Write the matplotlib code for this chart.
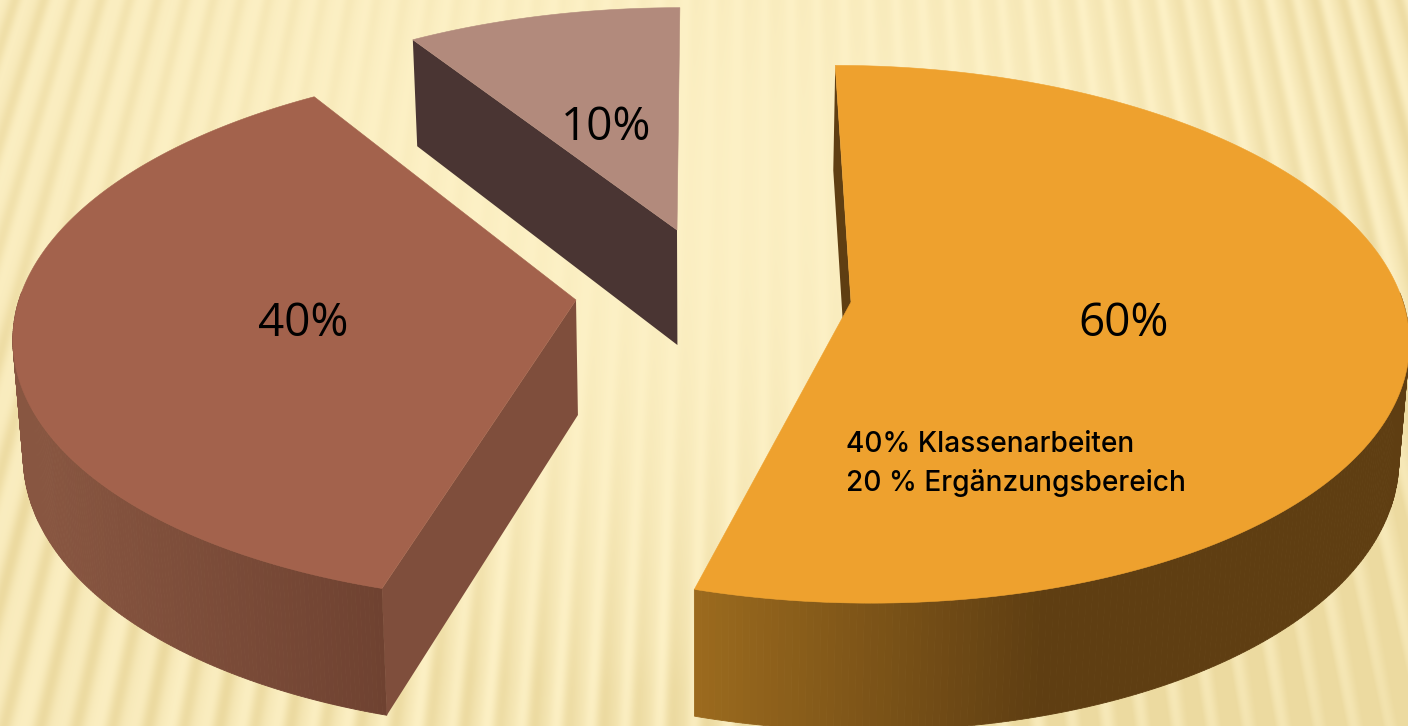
import numpy as np
import matplotlib
matplotlib.use("Agg")
import matplotlib.pyplot as plt
from matplotlib.colors import to_rgb
from matplotlib.patches import Polygon

labels = ["60%", "40%", "10%"]
values = [60, 40, 10]
note_lines = ["40% Klassenarbeiten", "20 % Ergänzungsbereich"]

top_colors = ["#eea12e", "#a3624c", "#b28a7c"]
side_colors = ["#5f3e12", "#7f4e3c", "#4a3533"]

# pie layout in pixels: apex of each slice and its radii
apex_x = [851, 576, 677]
apex_y = [302, 300, 230]
radius_x = [552, 557, 543]
radius_y = [265, 266, 249]
label_x = [1124, 303, 606]
label_y = [324, 324, 128]

WIDTH, HEIGHT = 1408, 726
VANISH_X = 704
PERSP = 0.12
DEPTH = 115


def project(i, ang, r=1.0, bottom=False):
    # ang is clockwise from the top of the pie, r is 0 at the apex
    u = r * np.sin(ang)
    v = -r * np.cos(ang)
    p = 1 / (1 - PERSP * v)
    x = VANISH_X + (apex_x[i] + radius_x[i] * u - VANISH_X) * p
    y = apex_y[i] + radius_y[i] * v * p
    if bottom:
        x = VANISH_X + (x - VANISH_X) * 0.985
        y = y + DEPTH * p ** 0.8
    return x, y


def background():
    yy, xx = np.mgrid[0:HEIGHT, 0:WIDTH]
    theta = np.arctan2(xx - 770, yy + 2350)
    stripes = (0.75 * np.sin(theta * 560) + 0.15 * np.sin(theta * 1130 + 1.0)
               + 0.1 * np.sin(theta * 250 + 2.0))
    base = np.array(to_rgb("#fdf1c6"))
    dark = np.array(to_rgb("#ecdaa0"))
    # stripes fade out around the upper middle of the slide
    dist = np.hypot((xx - 640) / 700, (yy - 180) / 480)
    strength = np.clip(0.1 + 0.8 * dist ** 2, 0, 1)
    corner = np.clip((xx / WIDTH + yy / HEIGHT - 1.35) / 0.6, 0, 1)
    amount = strength * (0.5 + 0.5 * stripes) + 0.5 * corner
    amount = np.clip(amount, 0, 1)[..., None]
    return base * (1 - amount) + dark * amount


def rim_color(i, x):
    # the rim shading runs left to right across the visible side
    if i == 0:
        t = np.clip((x - 692) / 350, 0, 1)
        return tuple(np.array(to_rgb("#9c6b1e")) * (1 - t) + np.array(to_rgb("#5f3e12")) * t)
    t = np.clip((x - 40) / 340, 0, 1)
    return tuple(np.array(to_rgb("#885641")) * (1 - t) + np.array(to_rgb("#6f4231")) * t)


def draw_slice(ax, i, a0, a1):
    angs = np.linspace(a0, a1, 300)
    # outer wall, only the front part can be seen
    if i < 2:
        for a, b in zip(angs[:-1], angs[1:]):
            if np.cos((a + b) / 2) > 0.03:
                continue
            quad = [project(i, a), project(i, b), project(i, b, bottom=True), project(i, a, bottom=True)]
            col = rim_color(i, (quad[0][0] + quad[1][0]) / 2)
            ax.add_patch(Polygon(quad, closed=True, fc=col, ec=col, lw=0.6, zorder=2 + i))
    # the flat cut face that looks at the viewer
    face = [project(i, a0), project(i, a0, 0), project(i, a0, 0, bottom=True), project(i, a0, bottom=True)]
    ax.add_patch(Polygon(face, closed=True, fc=side_colors[i], ec="none", zorder=2 + i))
    # top of the slice
    top = [project(i, a) for a in angs] + [project(i, a0, 0)]
    ax.add_patch(Polygon(top, closed=True, fc=top_colors[i], ec=top_colors[i], lw=0.4, zorder=6))


fig = plt.figure(figsize=(WIDTH / 100, HEIGHT / 100), dpi=100)
ax = fig.add_axes([0, 0, 1, 1])
ax.imshow(background(), extent=(0, WIDTH, HEIGHT, 0), aspect="auto", zorder=0)
ax.set_xlim(0, WIDTH)
ax.set_ylim(HEIGHT, 0)
ax.axis("off")

total = sum(values)
edges = np.cumsum([0] + values) / total * 2 * np.pi
for i in range(len(values)):
    draw_slice(ax, i, edges[i], edges[i + 1])
    ax.text(label_x[i], label_y[i], labels[i], fontsize=33, family="Open Sans",
            ha="center", va="center", color="#000000", zorder=8)

ax.text(846, 444, note_lines[0], fontsize=20.2, family="Inter", weight="medium", va="center", color="#000000", zorder=8)
ax.text(846, 483, note_lines[1], fontsize=20.2, family="Inter", weight="medium", va="center", color="#000000", zorder=8)

fig.savefig("out.png", dpi=100)
